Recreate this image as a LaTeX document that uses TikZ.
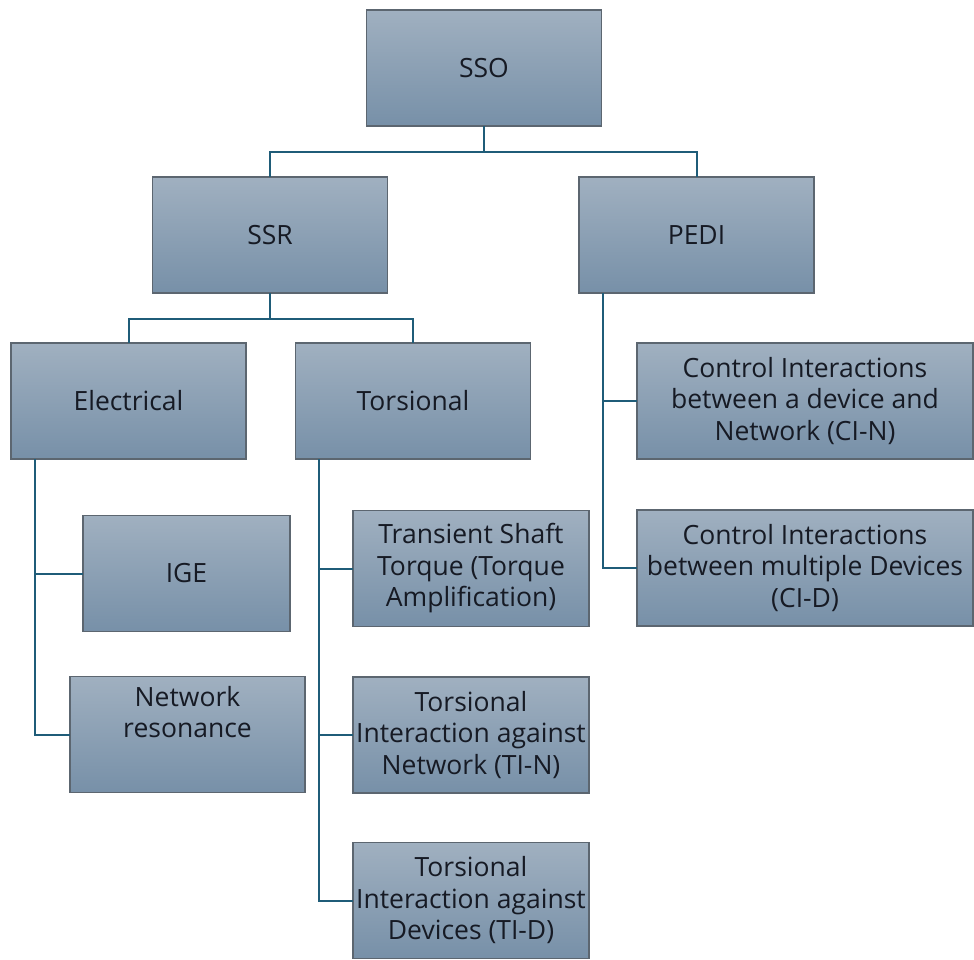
\documentclass[tikz,border=0pt]{standalone}
\usepackage{fontspec}
\setmainfont{Open Sans}
\begin{document}
\begin{tikzpicture}[x=1pt,y=-1pt,
  box/.style={draw=boxedge, line width=1.1pt, top color=boxtop, bottom color=boxbottom,
    minimum width=#1, minimum height=116pt, inner sep=0pt, outer sep=0pt,
    align=center, text=boxtext, font=\fontsize{26.5}{31.5}\selectfont},
  box/.default=235pt,
  link/.style={draw=linkcol, line width=2pt}]
\definecolor{boxtop}{HTML}{A0B0C0}
\definecolor{boxbottom}{HTML}{7790A8}
\definecolor{boxedge}{HTML}{5C6670}
\definecolor{boxtext}{HTML}{161A24}
\definecolor{linkcol}{HTML}{1F5C78}
\useasboundingbox (0,0) rectangle (974,959);
\begin{scope}
\clip (0,0) rectangle (974,959);
% top level
\node[box] (sso) at (484,68) {SSO};
% second level
\node[box] (ssr) at (270,235) {SSR};
\node[box] (pedi) at (696.5,235) {PEDI};
% third level
\node[box] (elec) at (128.5,401) {Electrical};
\node[box] (tors) at (413,401) {Torsional};
\node[box=336pt] (cin) at (805,401) {Control Interactions\\between a device and\\Network (CI-N)};
\node[box=336pt] (cid) at (805,568) {Control Interactions\\between multiple Devices\\(CI-D)};
% leaves under Electrical
\node[box=207pt] (ige) at (186.5,573.5) {IGE};
\node[box] (netres) at (187.5,734.5) {Network\\resonance\\[14pt]\mbox{}};
% leaves under Torsional
\node[box=236pt] (tst) at (471,568.5) {Transient Shaft\\Torque (Torque\\Amplification)};
\node[box=236pt] (tin) at (471,735) {Torsional\\Interaction against\\Network (TI-N)};
\node[box=236pt] (tid) at (471,900.5) {Torsional\\Interaction against\\Devices (TI-D)};
% connectors
\draw[link] (sso.south) -- ++(0,26) -| (ssr.north);
\draw[link] (sso.south) -- ++(0,26) -| (pedi.north);
\draw[link] (ssr.south) -- ++(0,26) -| (elec.north);
\draw[link] (ssr.south) -- ++(0,26) -| (tors.north);
\draw[link] ([xshift=24pt]pedi.south west) |- (cin.west);
\draw[link] ([xshift=24pt]pedi.south west) |- (cid.west);
\draw[link] ([xshift=24pt]elec.south west) |- (ige.west);
\draw[link] ([xshift=24pt]elec.south west) |- (netres.west);
\draw[link] ([xshift=23pt]tors.south west) |- (tst.west);
\draw[link] ([xshift=23pt]tors.south west) |- (tin.west);
\draw[link] ([xshift=23pt]tors.south west) |- (tid.west);
\end{scope}
\end{tikzpicture}
\end{document}
